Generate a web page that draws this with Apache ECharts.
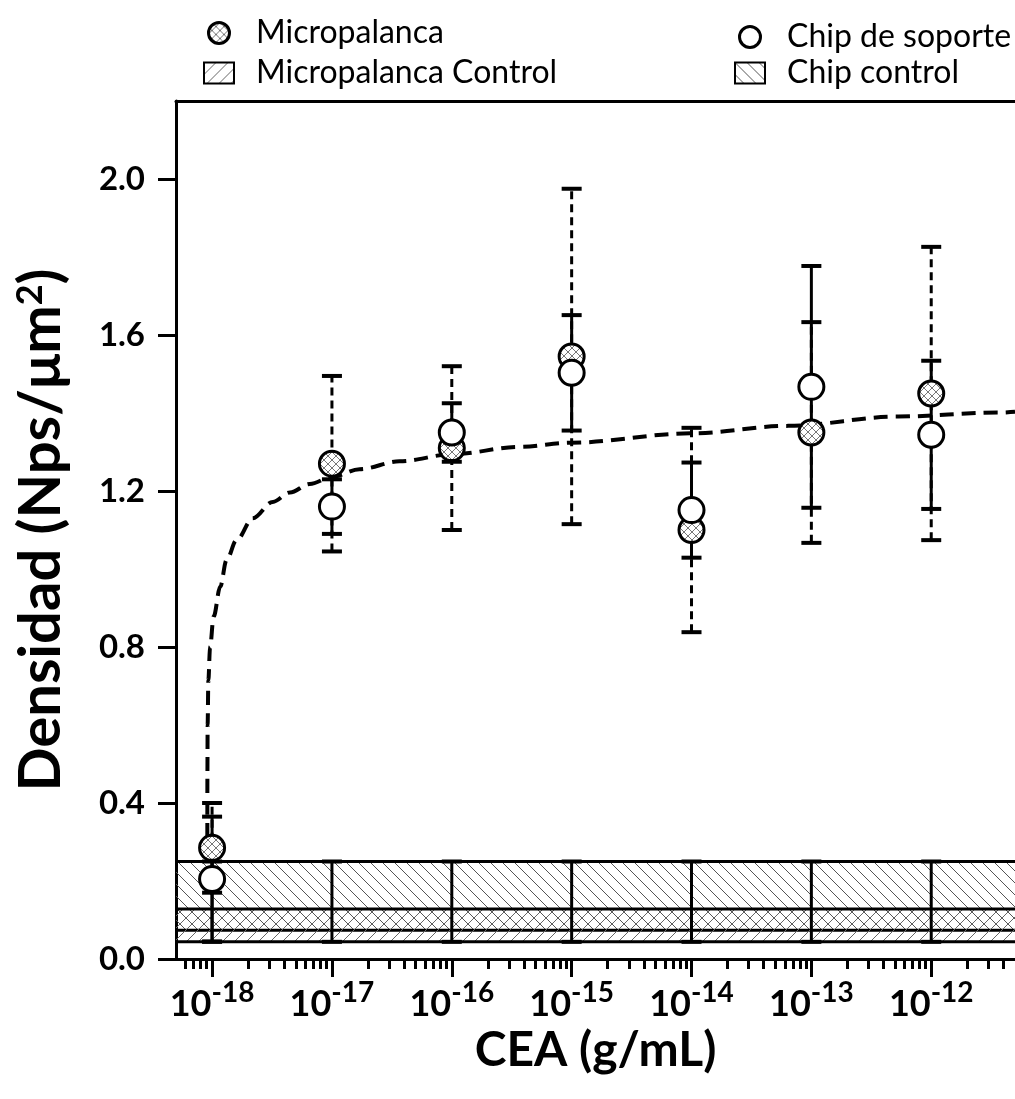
<!DOCTYPE html>
<html><head><meta charset="utf-8">
<script src="https://cdn.jsdelivr.net/npm/echarts@6/dist/echarts.min.js"></script>
<style>html,body{margin:0;padding:0;background:#fff}#c{width:1015px;height:1099px}</style>
</head><body><div id="c"></div>
<script>
// ---- data ----
const concentrations = [1e-18, 1e-17, 1e-16, 1e-15, 1e-14, 1e-13, 1e-12];
const micropalancaMean = [0.285, 1.27, 1.31, 1.545, 1.10, 1.35, 1.45];
const micropalancaErr  = [0.115, 0.225, 0.21, 0.43, 0.262, 0.283, 0.376];
const chipMean = [0.205, 1.16, 1.35, 1.503, 1.151, 1.467, 1.344];
const chipErr  = [0.16, 0.07, 0.075, 0.148, 0.122, 0.31, 0.19];
const micropalancaControlBand = [0.044, 0.128];
const chipControlBand = [0.074, 0.25];
const fitConc = [9.12e-19, 9.14e-19, 9.18e-19, 9.31e-19, 9.62e-19, 1.03e-18, 1.17e-18, 1.32e-18, 1.60e-18, 2.19e-18, 3.21e-18, 4.46e-18, 6.53e-18, 1e-17, 1.70e-17, 3.66e-17, 1e-16, 3.65e-16, 1e-15, 1e-14, 6.44e-14, 5.30e-13, 3.63e-12, 5e-12];
const fitDensity = [0.20, 0.47, 0.60, 0.715, 0.80, 0.878, 0.955, 1.023, 1.074, 1.130, 1.172, 1.196, 1.218, 1.236, 1.256, 1.276, 1.294, 1.313, 1.324, 1.348, 1.367, 1.391, 1.401, 1.403];
const xRange = [5e-19, 5e-12];
const xTickExponents = [-18, -17, -16, -15, -14, -13, -12];
const yTickLabels = [0, 0.4, 0.8, 1.2, 1.6, 2.0];
const yMinorTicks = [0.2, 0.6, 1.0, 1.4, 1.8, 2.2];
const yRange = [0, 2.2];

// ---- patterns ----
function makePattern(size, dirs, color, bg) {
  const c = document.createElement('canvas');
  c.width = size; c.height = size;
  const g = c.getContext('2d');
  if (bg) { g.fillStyle = bg; g.fillRect(0, 0, size, size); }
  g.strokeStyle = color; g.lineWidth = 1;
  for (const d of dirs) {
    for (const k of [-size, 0, size]) {
      g.beginPath();
      if (d === 'back') { g.moveTo(k, 0); g.lineTo(k + size, size); }
      else { g.moveTo(k, size); g.lineTo(k + size, 0); }
      g.stroke();
    }
  }
  return { image: c, repeat: 'repeat' };
}
const slashPat = makePattern(12, ['fwd'], '#666', null);
const backPat = makePattern(12, ['back'], '#555', null);
const crossPat = makePattern(8, ['fwd', 'back'], '#777', '#fff');

const L = v => Math.log10(v);
const xMin = L(xRange[0]), xMax = L(xRange[1]);
const minorX = [];
for (let n = -19; n <= -12; n++) for (let k = 2; k <= 9; k++) {
  const v = n + Math.log10(k);
  if (v > xMin && v < xMax) minorX.push(v);
}

function bandSeries(name, band, pat) {
  return {
    name, type: 'custom', z: 1, silent: true,
    itemStyle: { color: pat, borderColor: '#000', borderWidth: 2 },
    data: [[band[0], band[1]]],
    renderItem: (params, api) => {
      const lo = api.value(0), hi = api.value(1);
      const p1 = api.coord([xMin, hi]), p2 = api.coord([xMax, lo]);
      return { type: 'group', children: [
        { type: 'rect', shape: { x: p1[0], y: p1[1], width: p2[0] - p1[0], height: p2[1] - p1[1] }, style: { fill: pat } },
        { type: 'line', shape: { x1: p1[0], y1: p1[1], x2: p2[0], y2: p1[1] }, style: { stroke: '#000', lineWidth: 3 } },
        { type: 'line', shape: { x1: p1[0], y1: p2[1], x2: p2[0], y2: p2[1] }, style: { stroke: '#000', lineWidth: 3 } }
      ]};
    }
  };
}

function errSeries(name, lows, highs, dashed, z) {
  return {
    name: name, type: 'custom', z: z, silent: true,
    data: concentrations.map((c, i) => [L(c), lows[i], highs[i]]),
    encode: { x: 0, y: [1, 2] },
    renderItem: (params, api) => {
      const x = api.value(0);
      const pl = api.coord([x, api.value(1)]), ph = api.coord([x, api.value(2)]);
      const hw = 10;
      return { type: 'group', children: [
        { type: 'line', shape: { x1: pl[0], y1: pl[1], x2: ph[0], y2: ph[1] }, style: { stroke: '#000', lineWidth: 3, lineDash: dashed ? [8, 5] : null } },
        { type: 'line', shape: { x1: pl[0] - hw, y1: pl[1], x2: pl[0] + hw, y2: pl[1] }, style: { stroke: '#000', lineWidth: 4 } },
        { type: 'line', shape: { x1: ph[0] - hw, y1: ph[1], x2: ph[0] + hw, y2: ph[1] }, style: { stroke: '#000', lineWidth: 4 } }
      ]};
    }
  };
}

function markerSeries(name, means, fill, z) {
  return {
    name: name, type: 'custom', z: z, silent: true,
    itemStyle: { color: fill, borderColor: '#000', borderWidth: 3 },
    data: concentrations.map((c, i) => [L(c), means[i]]),
    encode: { x: 0, y: 1 },
    renderItem: (params, api) => {
      const p = api.coord([api.value(0), api.value(1)]);
      return { type: 'circle', shape: { cx: p[0], cy: p[1], r: 12.5 }, style: { fill: fill, stroke: '#000', lineWidth: 3 } };
    }
  };
}

const FONT = 'Lato';
const chart = echarts.init(document.getElementById('c'), null, { renderer: 'canvas' });
const axisBase = { type: 'value', min: xMin, max: xMax, gridIndex: 0, splitLine: { show: false } };
chart.setOption({
  animation: false,
  backgroundColor: '#fff',
  grid: { left: 176, top: 101, width: 842, height: 858 },
  legend: [
    { left: 198, top: 12, orient: 'vertical', itemGap: 8, itemWidth: 30, itemHeight: 21,
      textStyle: { fontFamily: FONT, fontSize: 32, color: '#000', padding: [0, 0, 0, 17] },
      data: [
        { name: 'Micropalanca', icon: 'circle', itemStyle: { color: crossPat, borderColor: '#000', borderWidth: 3 } },
        { name: 'Micropalanca Control', icon: 'rect', itemStyle: { color: slashPat, borderColor: '#000', borderWidth: 2 } }
      ] },
    { left: 729, top: 16, orient: 'vertical', itemGap: 4, itemWidth: 30, itemHeight: 21,
      textStyle: { fontFamily: FONT, fontSize: 32, color: '#000', padding: [0, 0, 0, 17] },
      data: [
        { name: 'Chip de soporte', icon: 'circle', itemStyle: { color: '#fff', borderColor: '#000', borderWidth: 3 } },
        { name: 'Chip control', icon: 'rect', itemStyle: { color: backPat, borderColor: '#000', borderWidth: 2 } }
      ] }
  ],
  xAxis: [
    Object.assign({}, axisBase, {
      position: 'bottom',
      axisLine: { lineStyle: { color: '#000', width: 3 } },
      axisTick: { customValues: xTickExponents, length: 18, lineStyle: { color: '#000', width: 3 } },
      axisLabel: { customValues: xTickExponents, margin: 20,
        formatter: v => '{b|10}{s|' + v + '}',
        rich: {
          b: { fontFamily: FONT, fontSize: 36, fontWeight: 'bold', color: '#000', lineHeight: 50 },
          s: { fontFamily: FONT, fontSize: 28, fontWeight: 'bold', color: '#000', verticalAlign: 'top', lineHeight: 26 }
        } },
      name: 'CEA (g/mL)', nameLocation: 'middle', nameGap: 66,
      nameTextStyle: { fontFamily: FONT, fontSize: 48, fontWeight: 'bold', color: '#000' }
    }),
    Object.assign({}, axisBase, {
      position: 'bottom', axisLine: { show: false },
      axisTick: { customValues: minorX, length: 10, lineStyle: { color: '#000', width: 3 } },
      axisLabel: { show: false }
    }),
    Object.assign({}, axisBase, {
      position: 'top', axisLine: { lineStyle: { color: '#000', width: 3 } },
      axisTick: { show: false }, axisLabel: { show: false }
    })
  ],
  yAxis: [
    { type: 'value', min: yRange[0], max: yRange[1], splitLine: { show: false },
      axisLine: { show: true, lineStyle: { color: '#000', width: 3 } },
      axisTick: { customValues: yTickLabels, length: 18, lineStyle: { color: '#000', width: 3 } },
      axisLabel: { customValues: yTickLabels, margin: 31, formatter: v => v.toFixed(1),
        fontFamily: FONT, fontSize: 33, fontWeight: 'bold', color: '#000' },
      name: 'Densidad (Nps/μm{s|2})', nameLocation: 'middle', nameGap: 106,
      nameTextStyle: { fontFamily: FONT, fontSize: 58, fontWeight: 'bold', color: '#000',
        rich: { s: { fontFamily: FONT, fontSize: 36, fontWeight: 'bold', color: '#000', verticalAlign: 'top', lineHeight: 36 } } }
    },
    { type: 'value', min: yRange[0], max: yRange[1], splitLine: { show: false },
      axisLine: { show: false },
      axisTick: { customValues: yMinorTicks, length: 9, lineStyle: { color: '#000', width: 3 } },
      axisLabel: { show: false }
    }
  ],
  series: [
    bandSeries('Chip control', chipControlBand, backPat),
    bandSeries('Micropalanca Control', micropalancaControlBand, slashPat),
    errSeries('controlBars', concentrations.map(() => micropalancaControlBand[0]), concentrations.map(() => chipControlBand[1]), false, 2),
    { name: 'fit', type: 'line', z: 3, silent: true, showSymbol: false, smooth: 0.35, smoothMonotone: 'x',
      data: fitConc.map((c, i) => [L(c), fitDensity[i]]),
      lineStyle: { color: '#000', width: 4, type: [14, 8] } },
    errSeries('mErr', micropalancaMean.map((m, i) => m - micropalancaErr[i]), micropalancaMean.map((m, i) => m + micropalancaErr[i]), true, 4),
    errSeries('cErr', chipMean.map((m, i) => m - chipErr[i]), chipMean.map((m, i) => m + chipErr[i]), false, 4),
    markerSeries('Micropalanca', micropalancaMean, crossPat, 5),
    markerSeries('Chip de soporte', chipMean, '#fff', 6)
  ]
});
</script></body></html>
